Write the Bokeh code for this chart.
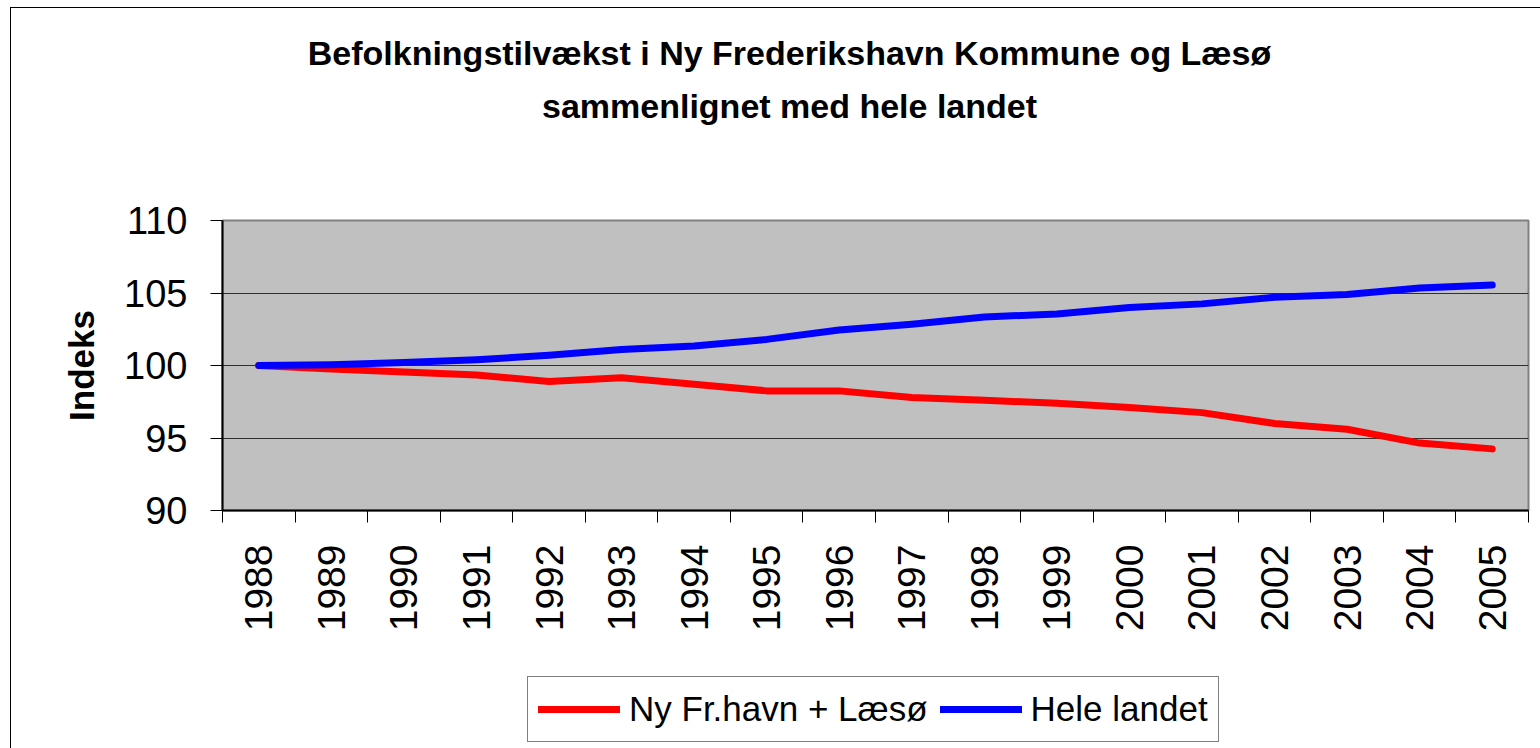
from bokeh.plotting import figure
from bokeh.layouts import column
from bokeh.models import (Range1d, FixedTicker, Label, Legend, LegendItem)
from bokeh.embed import file_html
from bokeh.resources import INLINE

years = ["1988", "1989", "1990", "1991", "1992", "1993", "1994", "1995", "1996",
         "1997", "1998", "1999", "2000", "2001", "2002", "2003", "2004", "2005"]
red_series = [100, 99.75, 99.55, 99.35, 98.9, 99.15, 98.7, 98.25, 98.25,
              97.8, 97.6, 97.4, 97.1, 96.75, 96.0, 95.6, 94.65, 94.25]
blue_series = [100, 100.05, 100.2, 100.4, 100.7, 101.1, 101.35, 101.8, 102.45,
               102.85, 103.35, 103.55, 104.0, 104.25, 104.7, 104.9, 105.35, 105.55]
y_ticks = [90, 95, 100, 105, 110]
red_name = "Ny Fr.havn + Læsø"
blue_name = "Hele landet"
title_lines = ["Befolkningstilvækst i Ny Frederikshavn Kommune og Læsø",
               "sammenlignet med hele landet"]
y_label = "Indeks"

FONT = "Liberation Sans"
RED = "#FF0000"
BLUE = "#0000FF"

W = 1529           # content width
H_TITLE = 130
H_MAIN = 527
H_LEG = 83
PX0, PX1 = 222, 1528   # page x of the aligned frame edges


def blank_fig(h, top):
    # page-pixel coordinates: x across the aligned frame, y downward
    f = figure(width=W, height=h, output_backend="svg", toolbar_location=None,
               title=None, x_range=Range1d(PX0, PX1), y_range=Range1d(top + h, top),
               min_border=0)
    f.axis.visible = False
    f.grid.visible = False
    f.outline_line_color = None
    f.background_fill_color = "white"
    f.border_fill_color = "white"
    return f


# ---------- title ----------
tf = blank_fig(H_TITLE, 8)
for i, t in enumerate(title_lines):
    tf.add_layout(Label(x=789, y=52 + 53 * i, text=t, text_align="center",
                        text_baseline="alphabetic", text_font=FONT,
                        text_font_style="bold", text_font_size="34px",
                        text_color="black"))

# ---------- main chart ----------
xs = list(range(len(years)))
p = figure(width=W, height=H_MAIN, output_backend="svg", toolbar_location=None,
           x_range=Range1d(-0.5, len(years) - 0.5), y_range=Range1d(90, 110),
           min_border_left=211, min_border_top=82, min_border_right=12,
           min_border_bottom=155)
p.background_fill_color = "#C0C0C0"
p.border_fill_color = "white"
p.outline_line_color = "#808080"
p.outline_line_width = 2

p.line(xs, red_series, line_color=RED, line_width=7, line_cap="round", line_join="round")
p.line(xs, blue_series, line_color=BLUE, line_width=7, line_cap="round", line_join="round")

xa = p.xaxis[0]
xa.ticker = FixedTicker(ticks=xs, minor_ticks=[i - 0.5 for i in range(len(years) + 1)])
xa.major_label_overrides = {i: y for i, y in enumerate(years)}
xa.major_tick_out = 0
xa.major_tick_in = 0
xa.minor_tick_out = 12
xa.minor_tick_in = 0
xa.minor_tick_line_color = "black"
xa.minor_tick_line_width = 1
xa.axis_line_color = "black"
xa.axis_line_width = 2
xa.major_label_orientation = 1.5707963
xa.major_label_standoff = 22
xa.major_label_text_font = FONT
xa.major_label_text_font_size = "39px"
xa.major_label_text_color = "black"

ya = p.yaxis[0]
ya.ticker = FixedTicker(ticks=y_ticks, minor_ticks=[])
ya.major_tick_out = 12
ya.major_tick_in = 0
ya.major_tick_line_color = "black"
ya.axis_line_color = "black"
ya.axis_line_width = 2
ya.major_label_standoff = 23
ya.major_label_text_font = FONT
ya.major_label_text_font_size = "38px"
ya.major_label_text_color = "black"
ya.axis_label = y_label
ya.axis_label_text_font = FONT
ya.axis_label_text_font_style = "bold"
ya.axis_label_text_font_size = "35px"
ya.axis_label_text_color = "black"
ya.axis_label_standoff = 20

p.xgrid.grid_line_color = None
p.ygrid.grid_line_color = "#303030"
p.ygrid.grid_line_width = 1

# ---------- legend ----------
# legend samples: same series, lying outside this strip's visible range
lf = blank_fig(H_LEG, 8 + H_TITLE + H_MAIN)
lr = lf.line(xs, red_series, line_color=RED, line_width=7, line_cap="round")
lb = lf.line(xs, blue_series, line_color=BLUE, line_width=7, line_cap="round")
legend = Legend(items=[LegendItem(label=red_name, renderers=[lr]),
                       LegendItem(label=blue_name, renderers=[lb])],
                orientation="horizontal", location=(527 - PX0, 6))
legend.label_text_font = FONT
legend.label_text_font_size = "35px"
legend.label_text_color = "black"
legend.glyph_width = 82
legend.glyph_height = 44
legend.label_standoff = 9
legend.spacing = 12
legend.padding = 10
legend.margin = 0
legend.border_line_color = "black"
legend.border_line_width = 1
legend.background_fill_color = "white"
legend.background_fill_alpha = 1
lf.add_layout(legend, "center")

layout = column(tf, p, lf, spacing=0)
layout.styles = {"margin-left": "10px", "margin-top": "7px",
                 "border-left": "1px solid #000", "border-top": "1px solid #000"}

open("out.html", "w").write(file_html(layout, INLINE))
